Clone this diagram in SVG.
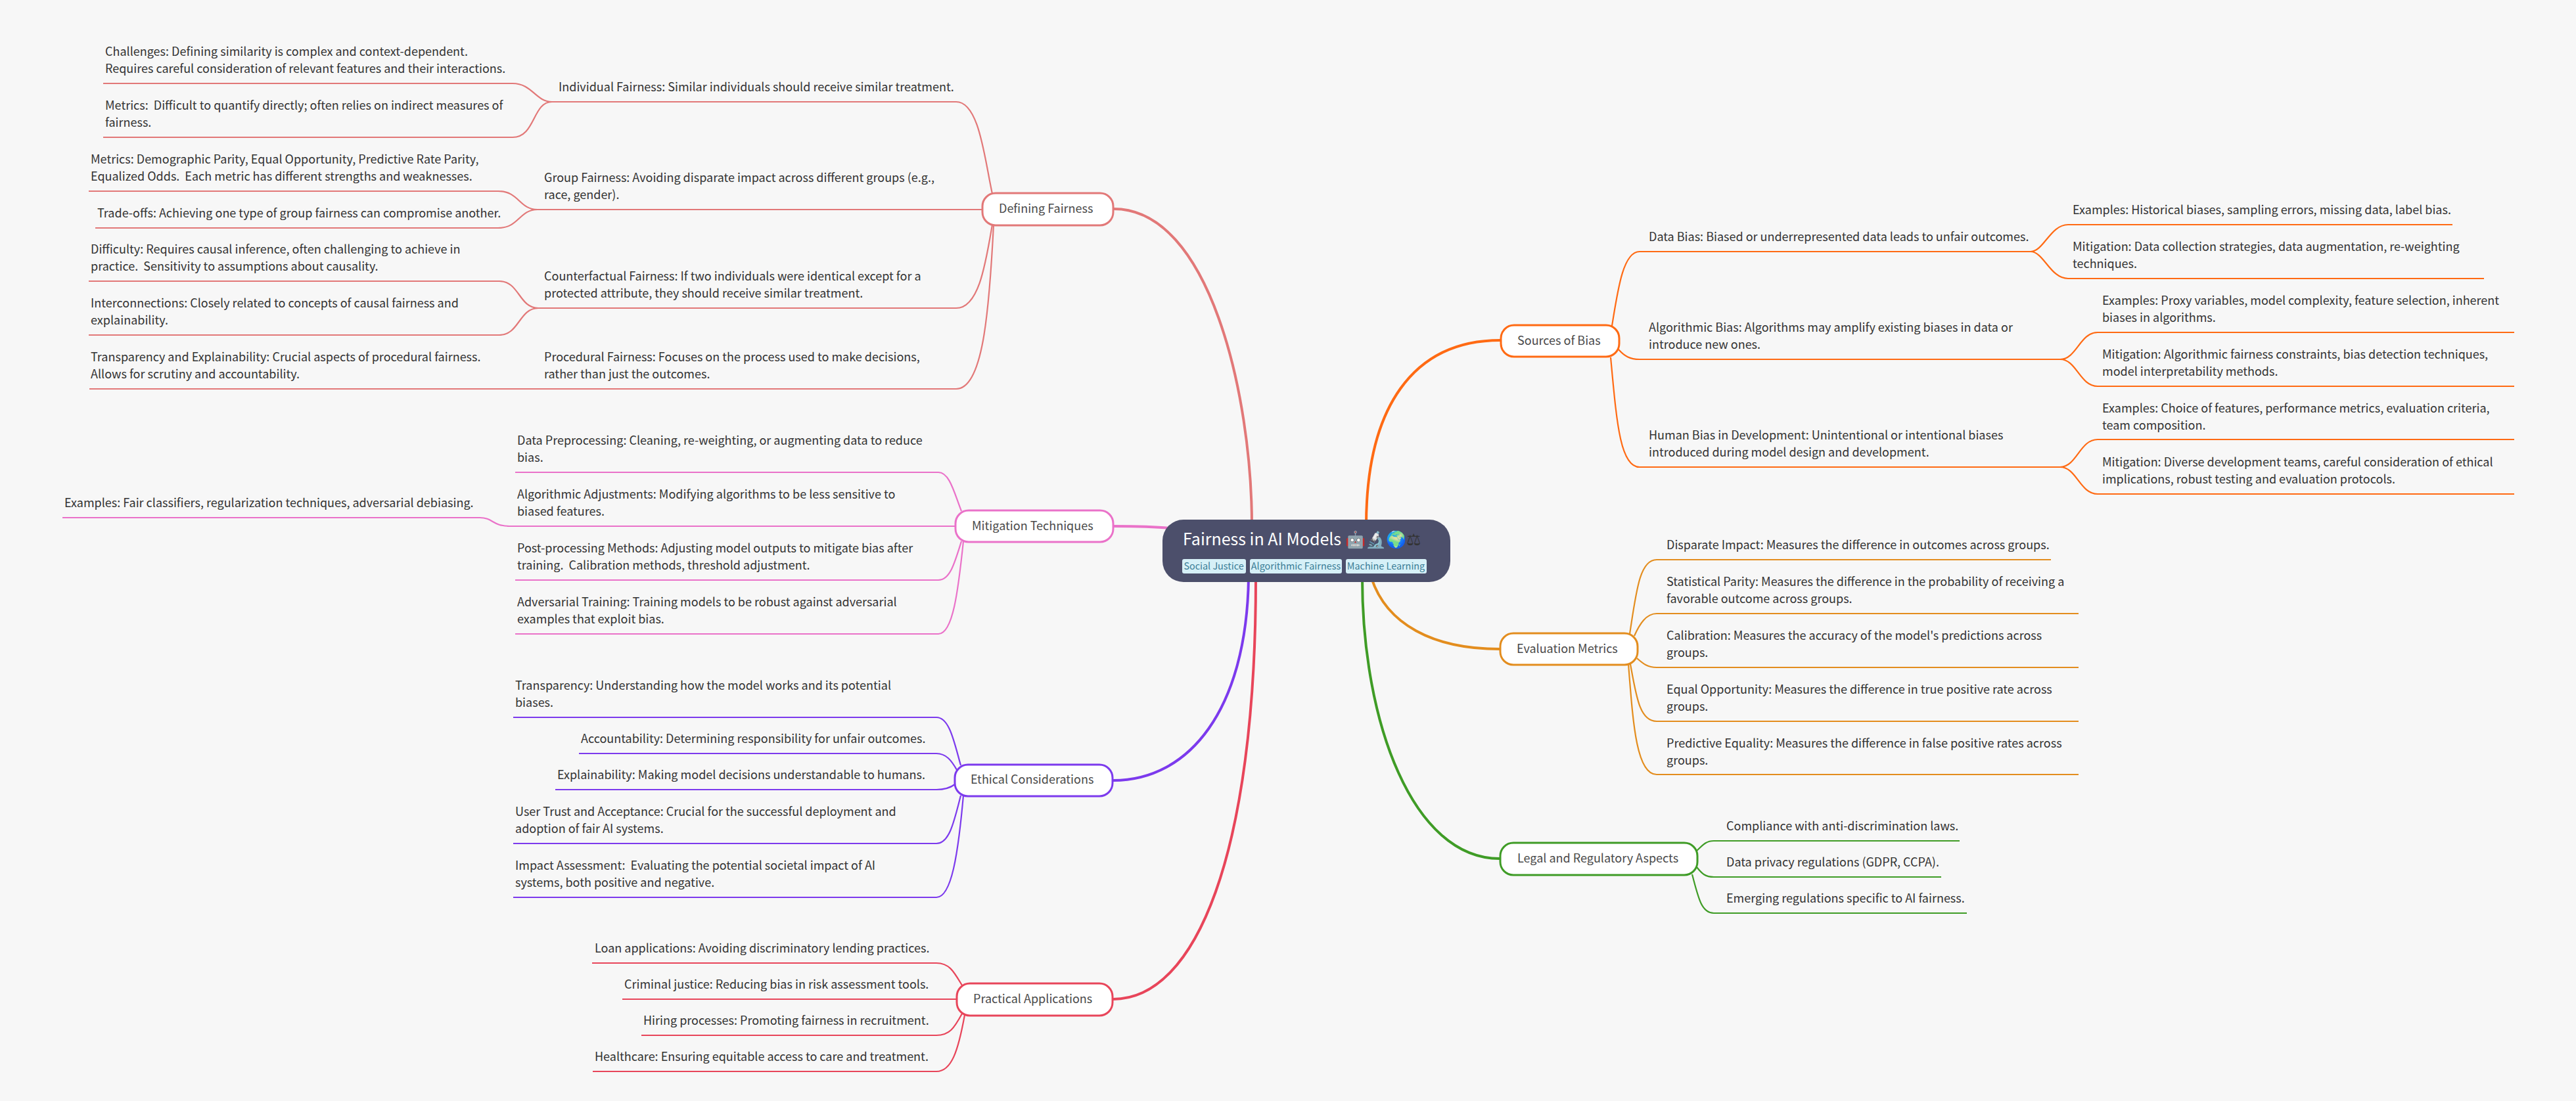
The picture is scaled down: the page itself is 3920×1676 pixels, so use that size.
<svg xmlns="http://www.w3.org/2000/svg" width="3920" height="1676" viewBox="0 0 3920 1676">
<style>
text{font-family:"Noto Sans CJK SC","Noto Sans",sans-serif}
.t{font-size:18px;fill:#333}
.n{font-size:18px;fill:#4a4a4a}
path{fill:none;stroke-linecap:butt}
.l{stroke-width:2.2}
.m{stroke-width:4}
.b{fill:#fff;stroke-width:3}
.r{stroke:#e27878}.p{stroke:#ea72c9}.v{stroke:#7c3aed}.a{stroke:#e8455a}.o{stroke:#ff6a13}.e{stroke:#e38d1e}.g{stroke:#3f9c26}
.tag{fill:#d6f0f7}
.tt{font-size:14.4px;fill:#3a7d96;text-anchor:middle}
</style>
<rect width="3920" height="1676" fill="#f7f7f7"/>
<g id="connectors">
<path class="m r" d="M1695 318C1840 318 1905 600 1905 800"/>
<path class="m p" d="M1695 801C1725 801 1750 801 1780 804"/>
<path class="m v" d="M1694 1188C1810 1188 1897 1080 1900 880"/>
<path class="m a" d="M1694 1521C1820 1521 1911 1300 1911 880"/>
<path class="m o" d="M2283 518C2150 518 2079 620 2079 800"/>
<path class="m e" d="M2282 988C2180 988 2110 950 2087 880"/>
<path class="m g" d="M2282 1307C2150 1307 2073 1100 2073 880"/>

<path class="l r" d="M840 155H1455C1490 155 1498 240 1510 295"/>
<path class="l r" d="M818 319H1496"/>
<path class="l r" d="M819 469H1455C1490 469 1500 400 1510 342"/>
<path class="l r" d="M136 592H1455C1495 592 1505 480 1512 342"/>
<path class="l r" d="M157 127H780C810 127 815 155 840 155"/>
<path class="l r" d="M157 209H780C815 209 810 155 840 155"/>
<path class="l r" d="M135 291H758C790 291 790 319 818 319"/>
<path class="l r" d="M145 347H758C790 347 790 319 818 319"/>
<path class="l r" d="M135 428H760C790 428 790 469 819 469"/>
<path class="l r" d="M135 510H760C790 510 790 469 819 469"/>

<path class="l p" d="M784 719H1428C1445 719 1452 750 1463 778"/>
<path class="l p" d="M772 801H1455"/>
<path class="l p" d="M95 788H730C750 788 750 801 775 801"/>
<path class="l p" d="M784 883H1428C1445 883 1452 860 1463 824"/>
<path class="l p" d="M784 965H1428C1450 965 1458 900 1466 824"/>

<path class="l v" d="M781 1092H1425C1445 1092 1452 1130 1462 1165"/>
<path class="l v" d="M881 1147H1425C1440 1147 1448 1158 1456 1172"/>
<path class="l v" d="M845 1202H1425C1437 1202 1445 1200 1453 1194"/>
<path class="l v" d="M781 1284H1425C1445 1284 1452 1250 1462 1211"/>
<path class="l v" d="M781 1366H1425C1448 1366 1458 1300 1466 1211"/>

<path class="l a" d="M901 1466H1425C1445 1466 1452 1480 1464 1500"/>
<path class="l a" d="M947 1521H1457"/>
<path class="l a" d="M976 1576H1425C1445 1576 1452 1565 1464 1543"/>
<path class="l a" d="M902 1631H1425C1448 1631 1458 1600 1468 1545"/>

<path class="l o" d="M2495 383C2470 383 2462 440 2453 496"/>
<path class="l o" d="M2495 383H3090C3110 383 3120 342 3147 342H3732"/>
<path class="l o" d="M3090 383C3110 383 3120 424 3147 424H3780"/>
<path class="l o" d="M2463 532C2472 542 2480 547 2495 547H3135C3160 547 3165 506 3192 506H3826"/>
<path class="l o" d="M3135 547C3160 547 3165 588 3192 588H3826"/>
<path class="l o" d="M2451 544C2460 640 2465 711 2495 711H3135C3160 711 3165 669 3192 669H3826"/>
<path class="l o" d="M3135 711C3160 711 3165 752 3192 752H3826"/>

<path class="l e" d="M2480 965C2490 900 2495 852 2521 852H3121"/>
<path class="l e" d="M2487 968C2495 950 2505 934 2521 934H3163"/>
<path class="l e" d="M2491 1002C2500 1010 2507 1016 2521 1016H3163"/>
<path class="l e" d="M2481 1011C2490 1060 2495 1098 2521 1098H3163"/>
<path class="l e" d="M2478 1011C2485 1100 2490 1179 2521 1179H3163"/>

<path class="l g" d="M2582 1295C2590 1288 2595 1280 2608 1280H2982"/>
<path class="l g" d="M2582 1320C2590 1330 2595 1335 2608 1335H2954"/>
<path class="l g" d="M2575 1331C2585 1370 2590 1390 2608 1390H2993"/>
</g>

<g id="root">
<rect x="1769" y="791" width="438" height="95" rx="32" fill="#4c4f6b"/>
<text x="1800" y="830" font-size="25" fill="#fff">Fairness in AI Models 🤖🔬🌍<tspan fill="#333">⚖</tspan></text>
<rect class="tag" x="1799" y="851" width="97" height="22" rx="3"/><text class="tt" x="1847" y="867">Social Justice</text>
<rect class="tag" x="1902" y="851" width="140" height="22" rx="3"/><text class="tt" x="1972" y="867">Algorithmic Fairness</text>
<rect class="tag" x="2048" y="851" width="123" height="22" rx="3"/><text class="tt" x="2109" y="867">Machine Learning</text>
</g>

<g id="defining-fairness"><rect class="b r" x="1495" y="294" width="199" height="49" rx="20"/><text class="n" x="1520" y="324">Defining Fairness</text></g>
<g id="mitigation-techniques"><rect class="b p" x="1454" y="777" width="240" height="48" rx="20"/><text class="n" x="1479" y="807">Mitigation Techniques</text></g>
<g id="ethical-considerations"><rect class="b v" x="1453" y="1164" width="240" height="48" rx="20"/><text class="n" x="1477" y="1193">Ethical Considerations</text></g>
<g id="practical-applications"><rect class="b a" x="1456" y="1497" width="237" height="49" rx="20"/><text class="n" x="1481" y="1527">Practical Applications</text></g>
<g id="sources-of-bias"><rect class="b o" x="2284" y="495" width="180" height="48" rx="20"/><text class="n" x="2309" y="525">Sources of Bias</text></g>
<g id="evaluation-metrics"><rect class="b e" x="2283" y="964" width="209" height="48" rx="20"/><text class="n" x="2308" y="994">Evaluation Metrics</text></g>
<g id="legal-regulatory"><rect class="b g" x="2283" y="1283" width="300" height="49" rx="20"/><text class="n" x="2309" y="1313">Legal and Regulatory Aspects</text></g>

<g id="individual-fairness"><text class="t" x="850" y="139">Individual Fairness: Similar individuals should receive similar treatment.</text></g>
<g id="group-fairness"><text class="t" x="828" y="277">Group Fairness: Avoiding disparate impact across different groups (e.g.,</text><text class="t" x="828" y="303">race, gender).</text></g>
<g id="counterfactual-fairness"><text class="t" x="828" y="427">Counterfactual Fairness: If two individuals were identical except for a</text><text class="t" x="828" y="453">protected attribute, they should receive similar treatment.</text></g>
<g id="procedural-fairness"><text class="t" x="828" y="550">Procedural Fairness: Focuses on the process used to make decisions,</text><text class="t" x="828" y="576">rather than just the outcomes.</text></g>
<g id="if-challenges"><text class="t" x="160" y="85">Challenges: Defining similarity is complex and context-dependent.</text><text class="t" x="160" y="111">Requires careful consideration of relevant features and their interactions.</text></g>
<g id="if-metrics"><text class="t" x="160" y="167" xml:space="preserve">Metrics:  Difficult to quantify directly; often relies on indirect measures of</text><text class="t" x="160" y="193">fairness.</text></g>
<g id="gf-metrics"><text class="t" x="138" y="249">Metrics: Demographic Parity, Equal Opportunity, Predictive Rate Parity,</text><text class="t" x="138" y="275" xml:space="preserve">Equalized Odds.  Each metric has different strengths and weaknesses.</text></g>
<g id="gf-tradeoffs"><text class="t" x="148" y="331">Trade-offs: Achieving one type of group fairness can compromise another.</text></g>
<g id="cf-difficulty"><text class="t" x="138" y="386">Difficulty: Requires causal inference, often challenging to achieve in</text><text class="t" x="138" y="412" xml:space="preserve">practice.  Sensitivity to assumptions about causality.</text></g>
<g id="cf-interconnections"><text class="t" x="138" y="468">Interconnections: Closely related to concepts of causal fairness and</text><text class="t" x="138" y="494">explainability.</text></g>
<g id="pf-transparency"><text class="t" x="138" y="550">Transparency and Explainability: Crucial aspects of procedural fairness.</text><text class="t" x="138" y="576">Allows for scrutiny and accountability.</text></g>

<g id="data-preprocessing"><text class="t" x="787" y="677">Data Preprocessing: Cleaning, re-weighting, or augmenting data to reduce</text><text class="t" x="787" y="703">bias.</text></g>
<g id="algorithmic-adjustments"><text class="t" x="787" y="759">Algorithmic Adjustments: Modifying algorithms to be less sensitive to</text><text class="t" x="787" y="785">biased features.</text></g>
<g id="aa-examples"><text class="t" x="98" y="772">Examples: Fair classifiers, regularization techniques, adversarial debiasing.</text></g>
<g id="post-processing"><text class="t" x="787" y="841">Post-processing Methods: Adjusting model outputs to mitigate bias after</text><text class="t" x="787" y="867" xml:space="preserve">training.  Calibration methods, threshold adjustment.</text></g>
<g id="adversarial-training"><text class="t" x="787" y="923">Adversarial Training: Training models to be robust against adversarial</text><text class="t" x="787" y="949">examples that exploit bias.</text></g>

<g id="transparency"><text class="t" x="784" y="1050">Transparency: Understanding how the model works and its potential</text><text class="t" x="784" y="1076">biases.</text></g>
<g id="accountability"><text class="t" x="884" y="1131">Accountability: Determining responsibility for unfair outcomes.</text></g>
<g id="explainability"><text class="t" x="848" y="1186">Explainability: Making model decisions understandable to humans.</text></g>
<g id="user-trust"><text class="t" x="784" y="1242">User Trust and Acceptance: Crucial for the successful deployment and</text><text class="t" x="784" y="1268">adoption of fair AI systems.</text></g>
<g id="impact-assessment"><text class="t" x="784" y="1324" xml:space="preserve">Impact Assessment:  Evaluating the potential societal impact of AI</text><text class="t" x="784" y="1350">systems, both positive and negative.</text></g>

<g id="loan"><text class="t" x="905" y="1450">Loan applications: Avoiding discriminatory lending practices.</text></g>
<g id="criminal"><text class="t" x="950" y="1505">Criminal justice: Reducing bias in risk assessment tools.</text></g>
<g id="hiring"><text class="t" x="979" y="1560">Hiring processes: Promoting fairness in recruitment.</text></g>
<g id="healthcare"><text class="t" x="905" y="1615">Healthcare: Ensuring equitable access to care and treatment.</text></g>

<g id="data-bias"><text class="t" x="2509" y="367">Data Bias: Biased or underrepresented data leads to unfair outcomes.</text></g>
<g id="algorithmic-bias"><text class="t" x="2509" y="505">Algorithmic Bias: Algorithms may amplify existing biases in data or</text><text class="t" x="2509" y="531">introduce new ones.</text></g>
<g id="human-bias"><text class="t" x="2509" y="669">Human Bias in Development: Unintentional or intentional biases</text><text class="t" x="2509" y="695">introduced during model design and development.</text></g>
<g id="db-examples"><text class="t" x="3154" y="326">Examples: Historical biases, sampling errors, missing data, label bias.</text></g>
<g id="db-mitigation"><text class="t" x="3154" y="382">Mitigation: Data collection strategies, data augmentation, re-weighting</text><text class="t" x="3154" y="408">techniques.</text></g>
<g id="ab-examples"><text class="t" x="3199" y="464">Examples: Proxy variables, model complexity, feature selection, inherent</text><text class="t" x="3199" y="490">biases in algorithms.</text></g>
<g id="ab-mitigation"><text class="t" x="3199" y="546">Mitigation: Algorithmic fairness constraints, bias detection techniques,</text><text class="t" x="3199" y="572">model interpretability methods.</text></g>
<g id="hb-examples"><text class="t" x="3199" y="628">Examples: Choice of features, performance metrics, evaluation criteria,</text><text class="t" x="3199" y="654">team composition.</text></g>
<g id="hb-mitigation"><text class="t" x="3199" y="710">Mitigation: Diverse development teams, careful consideration of ethical</text><text class="t" x="3199" y="736">implications, robust testing and evaluation protocols.</text></g>

<g id="disparate-impact"><text class="t" x="2536" y="836">Disparate Impact: Measures the difference in outcomes across groups.</text></g>
<g id="statistical-parity"><text class="t" x="2536" y="892">Statistical Parity: Measures the difference in the probability of receiving a</text><text class="t" x="2536" y="918">favorable outcome across groups.</text></g>
<g id="calibration"><text class="t" x="2536" y="974">Calibration: Measures the accuracy of the model's predictions across</text><text class="t" x="2536" y="1000">groups.</text></g>
<g id="equal-opportunity"><text class="t" x="2536" y="1056">Equal Opportunity: Measures the difference in true positive rate across</text><text class="t" x="2536" y="1082">groups.</text></g>
<g id="predictive-equality"><text class="t" x="2536" y="1138">Predictive Equality: Measures the difference in false positive rates across</text><text class="t" x="2536" y="1164">groups.</text></g>

<g id="compliance"><text class="t" x="2627" y="1264">Compliance with anti-discrimination laws.</text></g>
<g id="data-privacy"><text class="t" x="2627" y="1319">Data privacy regulations (GDPR, CCPA).</text></g>
<g id="emerging"><text class="t" x="2627" y="1374">Emerging regulations specific to AI fairness.</text></g>
</svg>
